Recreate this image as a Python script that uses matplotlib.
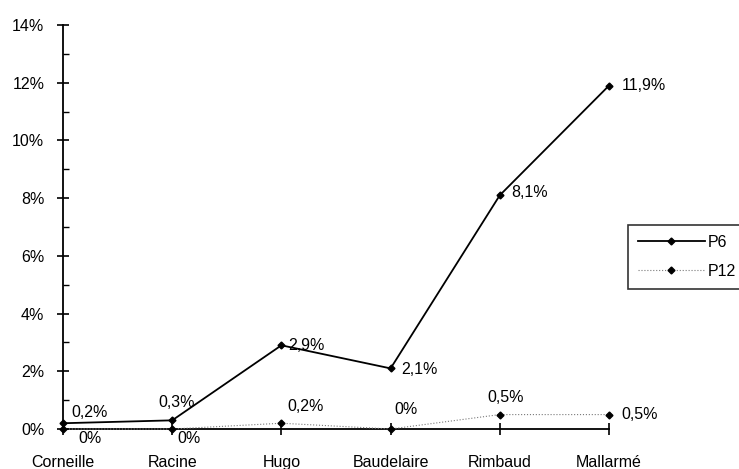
import matplotlib.pyplot as plt
from matplotlib.ticker import MultipleLocator, FuncFormatter

plt.rcParams['font.family'] = ['Liberation Sans', 'DejaVu Sans']
plt.rcParams['font.size'] = 11.5

poets = ['Corneille', 'Racine', 'Hugo', 'Baudelaire', 'Rimbaud', 'Mallarmé']
p6 = [0.2, 0.3, 2.9, 2.1, 8.1, 11.9]
p12 = [0, 0, 0.2, 0, 0.5, 0.5]

def pct(v):
    return (f"{v:g}%").replace('.', ',')

fig = plt.figure(figsize=(7.39, 4.69), dpi=100)
ax = fig.add_axes([63 / 739, 40 / 469, 546 / 739, 404 / 469])
x = list(range(len(poets)))

l6, = ax.plot(x, p6, '-', color='black', lw=1.3, marker='D', ms=3.5, label='P6', clip_on=False, zorder=4)
l12, = ax.plot(x, p12, ':', color='#7a7a7a', lw=0.8, marker='D', ms=3.5, mfc='black', mec='black',
               label='P12', clip_on=False, zorder=3)

# value labels: (dx, dy) offsets in points, left-aligned, vertically centred
off6 = [(6, 8), (-10, 13), (5, 0), (8, -1), (8, 2), (9, 0)]
for i, v in enumerate(p6):
    ax.annotate(pct(v), (i, v), xytext=off6[i], textcoords='offset points',
                ha='left', va='center')
off12 = [(11, -7), (4, -7), (4, 12), (3, 14), (-9, 12), (9, 0)]
for i, v in enumerate(p12):
    ax.annotate(pct(v), (i, v), xytext=off12[i], textcoords='offset points',
                ha='left', va='center')

ax.set_xlim(0, 5)
ax.set_ylim(0, 14)
ax.yaxis.set_major_locator(MultipleLocator(2))
ax.yaxis.set_minor_locator(MultipleLocator(1))
ax.yaxis.set_major_formatter(FuncFormatter(lambda v, p: f"{v:.0f}%"))
ax.set_xticks(x)
ax.set_xticklabels(poets)
ax.tick_params(axis='y', which='major', direction='inout', length=9, width=1.2, pad=9)
ax.tick_params(axis='y', which='minor', direction='in', length=4.5, width=1.0)
ax.tick_params(axis='x', which='major', direction='inout', length=9, width=1.2, pad=14)

for s in ['top', 'right']:
    ax.spines[s].set_visible(False)
for s in ['left', 'bottom']:
    ax.spines[s].set_linewidth(1.3)

leg = fig.legend(handles=[l6, l12], loc='upper left', bbox_to_anchor=(628 / 739, 1 - 225 / 469),
                 frameon=True, fancybox=False, edgecolor='black', handlelength=4.2,
                 borderpad=0.6, labelspacing=0.9, handletextpad=0.2, borderaxespad=0)
leg.get_frame().set_linewidth(1.2)

fig.savefig('out.png', dpi=100)
